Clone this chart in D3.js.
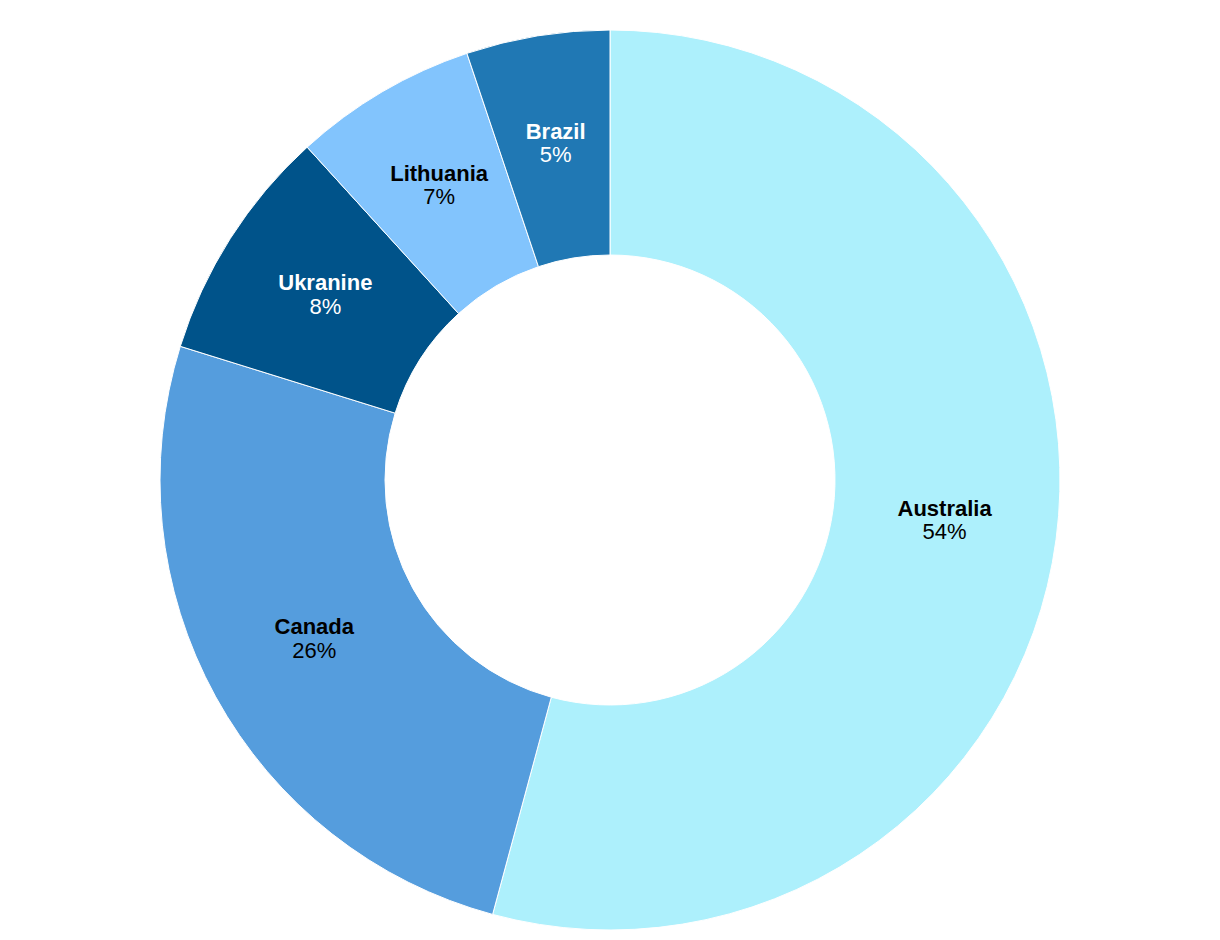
<!DOCTYPE html>
<html>
<head>
<meta charset="utf-8">
<script src="https://cdn.jsdelivr.net/npm/d3@7"></script>
<style>
  html, body { margin: 0; padding: 0; background: #fff; }
  svg { display: block; }
  text { font-family: "Liberation Sans", Arial, Helvetica, sans-serif; }
</style>
</head>
<body>
<svg id="chart" width="1220" height="940"></svg>
<script>
const categories = ["Australia", "Canada", "Ukranine", "Lithuania", "Brazil"];
const values = [54.2, 25.6, 8.45, 6.6, 5.15];
const colors = ["#adf0fc", "#559ddd", "#00538a", "#82c4fd", "#2078b4"];
const labelColors = ["#000", "#000", "#fff", "#000", "#fff"];

const width = 1220, height = 940;
const cx = 610, cy = 480;
const outerR = 450, innerR = 225;

const data = categories.map((c, i) => ({ name: c, value: values[i], color: colors[i], label: labelColors[i] }));
const total = d3.sum(values);

const svg = d3.select("#chart");
const g = svg.append("g").attr("transform", `translate(${cx},${cy})`);

const pie = d3.pie().value(d => d.value).sort(null);
const arc = d3.arc().innerRadius(innerR).outerRadius(outerR);

const arcs = pie(data);

g.selectAll("path.slice")
  .data(arcs)
  .join("path")
  .attr("class", "slice")
  .attr("d", arc)
  .attr("fill", d => d.data.color)
  .attr("stroke", "#fff")
  .attr("stroke-width", 1);

const fmt = d3.format(".0%");
const fs = 22;
const labels = g.selectAll("g.lbl")
  .data(arcs)
  .join("g")
  .attr("class", "lbl")
  .attr("transform", d => `translate(${arc.centroid(d)})`)
  .attr("text-anchor", "middle")
  .style("font-size", fs + "px")
  .attr("fill", d => d.data.label);

labels.append("text")
  .attr("y", -0.38 * fs)
  .style("font-weight", "bold")
  .text(d => d.data.name);

labels.append("text")
  .attr("y", 0.68 * fs)
  .text(d => fmt(d.data.value / total));
</script>
</body>
</html>
